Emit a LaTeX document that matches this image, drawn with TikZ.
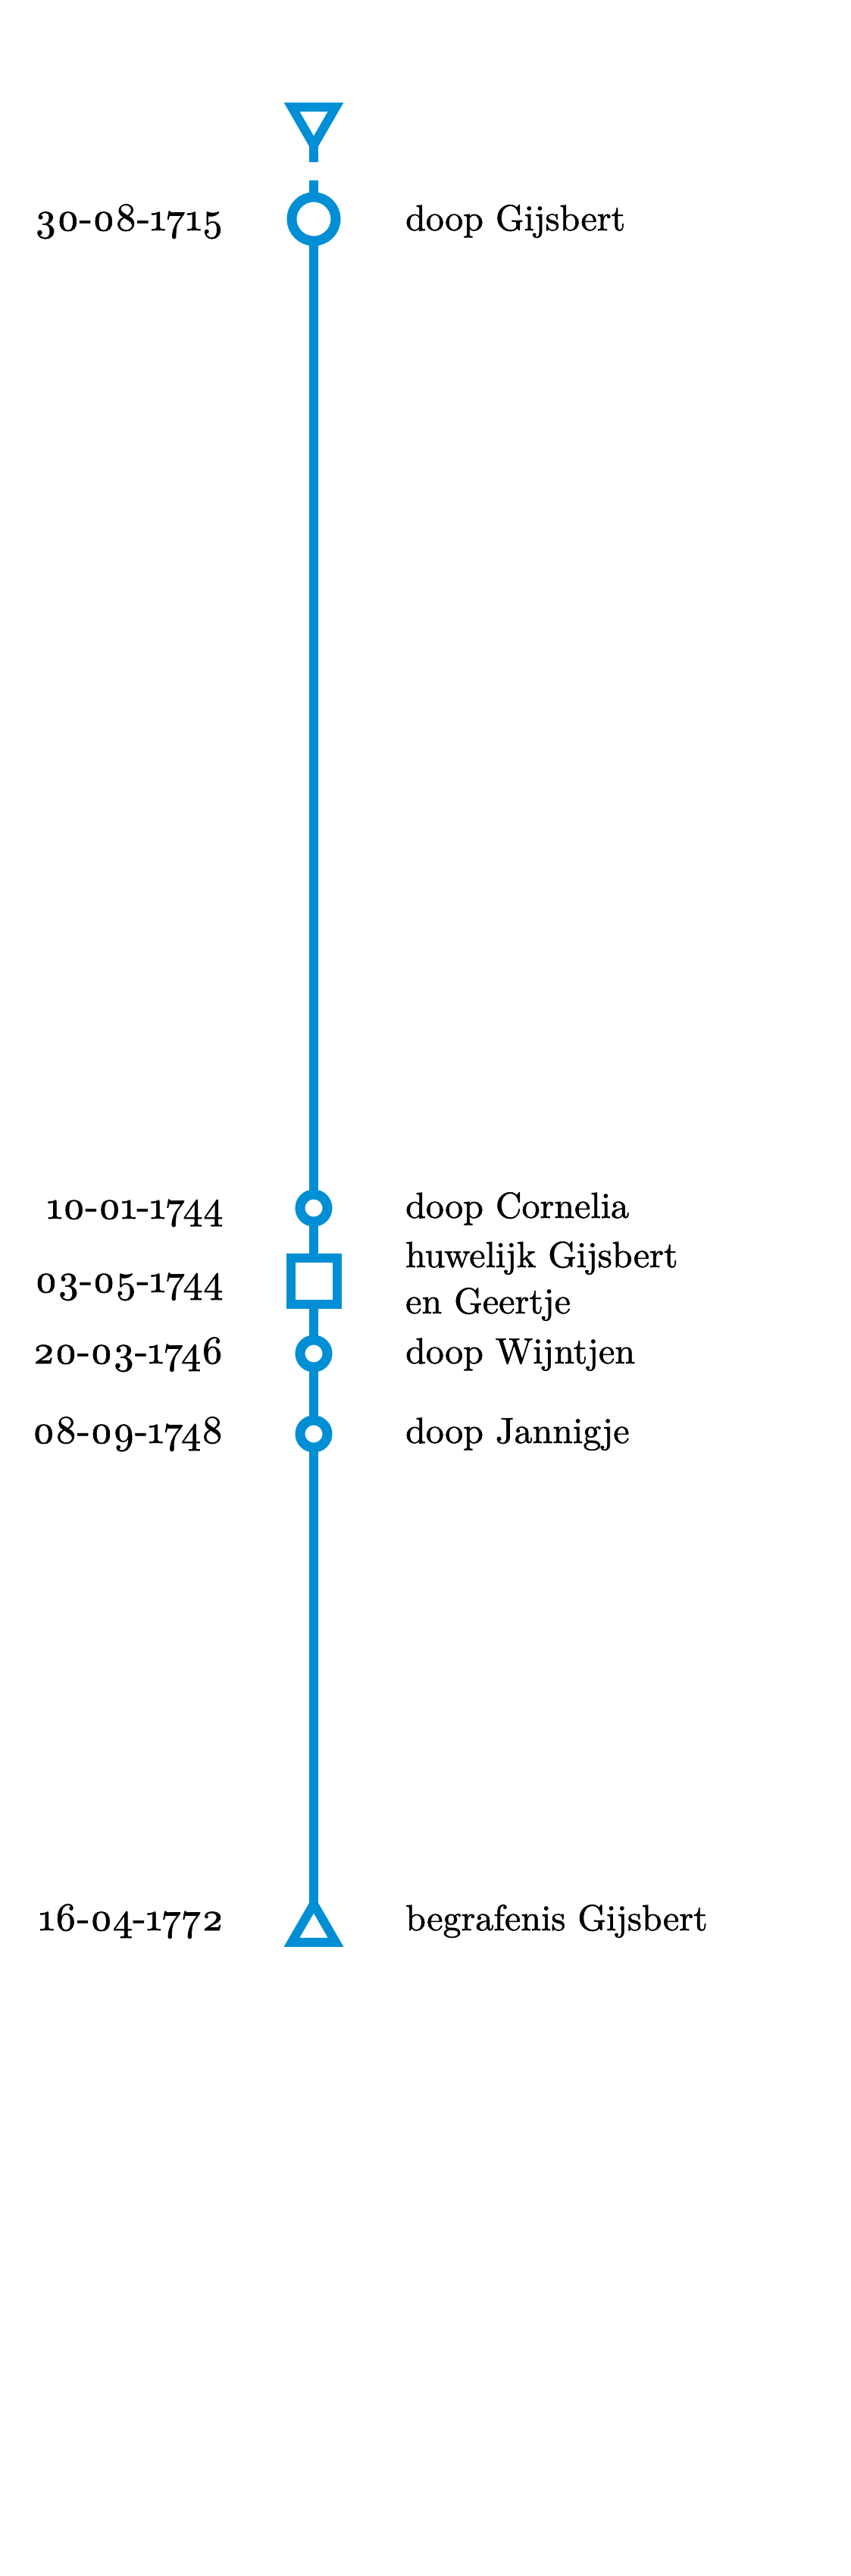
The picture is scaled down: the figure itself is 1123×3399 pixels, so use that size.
\documentclass[tikz,border=0pt]{standalone}
\usepackage{fontspec}
\setmainfont{lmroman10-regular.otf}[Numbers=OldStyle,FakeBold=1.2]
\usetikzlibrary{shapes.geometric}
\definecolor{tl}{RGB}{0,143,213}
\begin{document}
\begin{tikzpicture}[x=1pt,y=1pt,
  evcirc/.style={circle,draw=tl,line width=13pt,inner sep=0pt,outer sep=0pt,fill=white},
  evsq/.style={rectangle,draw=tl,line width=12pt,inner sep=0pt,outer sep=0pt,fill=white,minimum size=61pt},
  evtri/.style={regular polygon,regular polygon sides=3,draw=tl,line width=12pt,inner sep=0pt,outer sep=0pt,minimum size=67pt,line join=miter},
  tline/.style={draw=tl,line width=12pt},
  datelbl/.style={anchor=base east,inner sep=0pt,font=\fontsize{52}{62}\selectfont},
  evlbl/.style={anchor=base west,inner sep=0pt,font=\fontsize{48}{58}\selectfont}
]
\useasboundingbox (0,0) rectangle (1123,-3399);
% markers
\node[evtri,regular polygon rotate=180] (t0) at (414,-158) {};
\coordinate (s1) at (414,-214);
\coordinate (s2) at (414,-238);
\node[evcirc,minimum size=58pt] (c0) at (414,-289) {};
\node[evcirc,minimum size=36pt] (c1) at (414,-1594) {};
\node[evsq] (sq) at (414,-1690) {};
\node[evcirc,minimum size=36pt] (c2) at (414,-1786) {};
\node[evcirc,minimum size=36pt] (c3) at (414,-1892) {};
\node[evtri] (t1) at (414,-2546) {};
% connectors
\draw[tline] (t0.corner 1) -- (s1);
\draw[tline] (s2) -- (c0.north);
\draw[tline] (c0.south) -- (c1.north);
\draw[tline] (c1.south) -- (sq.north);
\draw[tline] (sq.south) -- (c2.north);
\draw[tline] (c2.south) -- (c3.north);
\draw[tline] (c3.south) -- (t1.corner 1);
% dates
\node[datelbl] (d0) at (295,-304) {30-08-1715};
\node[datelbl] (d1) at (295,-1608) {10-01-1744};
\node[datelbl] (d2) at (295,-1705) {03-05-1744};
\node[datelbl] (d3) at (295,-1799) {20-03-1746};
\node[datelbl] (d4) at (295,-1904) {08-09-1748};
\node[datelbl] (d5) at (295,-2547) {16-04-1772};
% events
\node[evlbl] (e0) at (535,-304) {doop Gijsbert};
\node[evlbl] (e1) at (535,-1607) {doop Cornelia};
\node[evlbl] (e2a) at (535,-1672) {huwelijk Gijsbert};
\node[evlbl] (e2b) at (535,-1733) {en Geertje};
\node[evlbl] (e3) at (535,-1799) {doop Wijntjen};
\node[evlbl] (e4) at (535,-1904) {doop Jannigje};
\node[evlbl] (e5) at (535,-2547) {begrafenis Gijsbert};
\end{tikzpicture}
\end{document}
